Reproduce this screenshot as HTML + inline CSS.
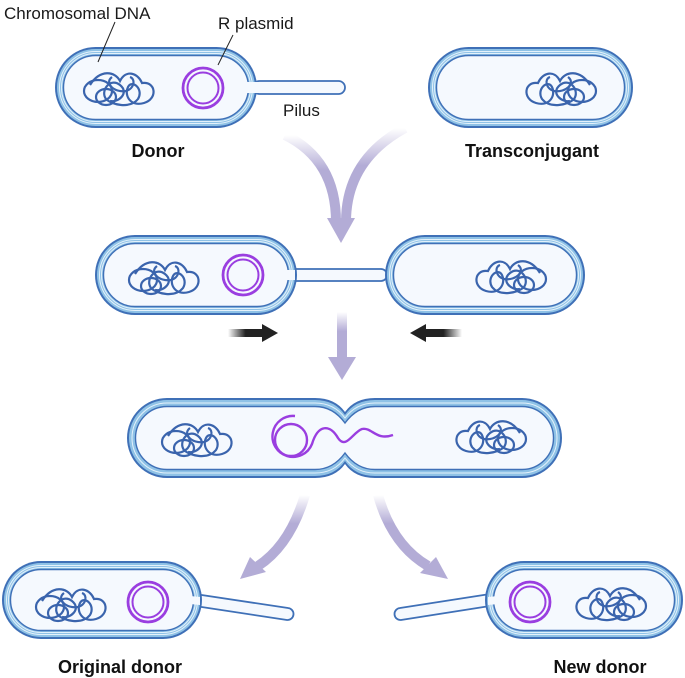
<!DOCTYPE html>
<html><head><meta charset="utf-8"><style>
html,body{margin:0;padding:0;background:#fff;}
svg{display:block;}
text{font-family:"Liberation Sans",Arial,sans-serif;}
</style></head><body>
<svg width="685" height="678" viewBox="0 0 685 678" xmlns="http://www.w3.org/2000/svg">
<defs>
<g id="dna" fill="none" stroke="#3a64ad" stroke-width="2.2">
  <ellipse cx="-22" cy="4" rx="14" ry="11"/>
  <ellipse cx="-14" cy="10" rx="10" ry="8"/>
  <path d="M-30 -2 C-20 -18 -5 -16 0 -6 C6 -18 18 -14 22 -4 C36 -6 38 12 24 16 C10 20 4 8 8 0 C12 -8 24 2 18 12 C10 22 -8 18 -14 12 C-20 4 -10 -10 0 -2 C10 6 -2 16 -10 14"/>
  <path d="M-8 -10 C-16 -4 -6 6 6 4 C14 2 16 -8 10 -10"/>
</g>
<g id="plas" fill="none" stroke="#9a3ee0">
  <circle r="20" stroke-width="2.8"/>
  <circle r="15.5" stroke-width="2"/>
</g>
<linearGradient id="gd" x1="0" y1="0" x2="0" y2="1"><stop offset="0" stop-color="#b3acd6" stop-opacity="0"/><stop offset="0.4" stop-color="#b3acd6"/></linearGradient>
<linearGradient id="gl" x1="0" x2="1"><stop offset="0" stop-color="#222" stop-opacity="0"/><stop offset="0.5" stop-color="#222"/></linearGradient>
<linearGradient id="gr" x1="1" x2="0"><stop offset="0" stop-color="#222" stop-opacity="0"/><stop offset="0.5" stop-color="#222"/></linearGradient>
</defs>

<!-- Row 1 -->
<g>
  <rect x="253" y="81" width="92" height="13" rx="6.5" fill="#f5f9fe" stroke="#3f70b7" stroke-width="1.8"/>
  <rect x="55" y="47" width="202" height="81" rx="40.5" fill="#3f70b7"/>
  <rect x="57" y="49" width="198" height="77" rx="38.5" fill="#8fc2e6"/>
  <rect x="59.5" y="51.5" width="193" height="72" rx="36" fill="none" stroke="#e3f1fb" stroke-width="1"/>
  <rect x="61.5" y="53.5" width="189" height="68" rx="34" fill="none" stroke="#e3f1fb" stroke-width="1"/>
  <rect x="63.5" y="55.5" width="185" height="64" rx="32" fill="#f5f9fe" stroke="#3f70b7" stroke-width="1.4"/>
  <rect x="247" y="82" width="12" height="11" fill="#f5f9fe"/>
  <use href="#dna" x="120" y="87"/>
  <use href="#plas" x="203" y="88"/>
</g>
<g>
  <rect x="428" y="47" width="205" height="81" rx="40.5" fill="#3f70b7"/>
  <rect x="430" y="49" width="201" height="77" rx="38.5" fill="#8fc2e6"/>
  <rect x="432.5" y="51.5" width="196" height="72" rx="36" fill="none" stroke="#e3f1fb" stroke-width="1"/>
  <rect x="434.5" y="53.5" width="192" height="68" rx="34" fill="none" stroke="#e3f1fb" stroke-width="1"/>
  <rect x="436.5" y="55.5" width="188" height="64" rx="32" fill="#f5f9fe" stroke="#3f70b7" stroke-width="1.4"/>
  <use href="#dna" x="560" y="87" transform="translate(1120 0) scale(-1 1)"/>
</g>
<line x1="115" y1="22" x2="98" y2="62" stroke="#222" stroke-width="1"/>
<line x1="233" y1="35" x2="218" y2="65" stroke="#222" stroke-width="1"/>
<text x="4" y="19" font-size="17" fill="#1a1a1a">Chromosomal DNA</text>
<text x="218" y="29" font-size="17" fill="#1a1a1a">R plasmid</text>
<text x="283" y="116" font-size="17" fill="#1a1a1a">Pilus</text>
<text x="158" y="157" font-size="18" font-weight="bold" text-anchor="middle" fill="#111">Donor</text>
<text x="532" y="157" font-size="18" font-weight="bold" text-anchor="middle" fill="#111">Transconjugant</text>

<!-- merging arrows -->
<path d="M285 135 Q336 160 336 222" fill="none" stroke="url(#gd)" stroke-width="10"/>
<path d="M405 128 Q346 160 346 222" fill="none" stroke="url(#gd)" stroke-width="10"/>
<polygon points="327,218 355,218 341,243" fill="#b3acd6"/>

<!-- Row 2 -->
<g>
  <rect x="290" y="269" width="97" height="12" rx="6" fill="#f5f9fe" stroke="#3f70b7" stroke-width="1.8"/>
  <rect x="95" y="235" width="202" height="80" rx="40" fill="#3f70b7"/>
  <rect x="97" y="237" width="198" height="76" rx="38" fill="#8fc2e6"/>
  <rect x="99.5" y="239.5" width="193" height="71" rx="35.5" fill="none" stroke="#e3f1fb" stroke-width="1"/>
  <rect x="101.5" y="241.5" width="189" height="67" rx="33.5" fill="none" stroke="#e3f1fb" stroke-width="1"/>
  <rect x="103.5" y="243.5" width="185" height="63" rx="31.5" fill="#f5f9fe" stroke="#3f70b7" stroke-width="1.4"/>
  <rect x="285" y="270" width="10" height="10" fill="#f5f9fe"/>
  <use href="#dna" x="165" y="276"/>
  <use href="#plas" x="243" y="275"/>
</g>
<g>
  <rect x="385" y="235" width="200" height="80" rx="40" fill="#3f70b7"/>
  <rect x="387" y="237" width="196" height="76" rx="38" fill="#8fc2e6"/>
  <rect x="389.5" y="239.5" width="191" height="71" rx="35.5" fill="none" stroke="#e3f1fb" stroke-width="1"/>
  <rect x="391.5" y="241.5" width="187" height="67" rx="33.5" fill="none" stroke="#e3f1fb" stroke-width="1"/>
  <rect x="393.5" y="243.5" width="183" height="63" rx="31.5" fill="#f5f9fe" stroke="#3f70b7" stroke-width="1.4"/>
  <use href="#dna" x="510" y="275" transform="translate(1020 0) scale(-1 1)"/>
</g>
<rect x="228" y="329" width="35" height="8" fill="url(#gl)"/>
<polygon points="262,324 278,333 262,342" fill="#222"/>
<rect x="425" y="329" width="37" height="8" fill="url(#gr)"/>
<polygon points="426,324 410,333 426,342" fill="#222"/>

<!-- down arrow -->
<rect x="337" y="312" width="10" height="48" fill="url(#gd)"/>
<polygon points="328,357 356,357 342,380" fill="#b3acd6"/>

<!-- Row 3 merged -->
<g>
  <path d="M167 398 H315 Q335 398 345 412 Q355 398 375 398 H522 A40 40 0 0 1 522 478 H375 Q355 478 345 464 Q335 478 315 478 H167 A40 40 0 0 1 167 398 Z" fill="#3f70b7"/>
  <path d="M167 400 H315 Q335 400 345 415 Q355 400 375 400 H522 A38 38 0 0 1 522 476 H375 Q355 476 345 461 Q335 476 315 476 H167 A38 38 0 0 1 167 400 Z" fill="#8fc2e6"/>
  <path d="M167 403 H315 Q334 403 345 418 Q356 403 375 403 H522 A35 35 0 0 1 522 473 H375 Q356 473 345 458 Q334 473 315 473 H167 A35 35 0 0 1 167 403 Z" fill="none" stroke="#e3f1fb" stroke-width="1"/>
  <path d="M167 406.5 H315 Q333 406.5 345 423 Q357 406.5 375 406.5 H522 A31.5 31.5 0 0 1 522 469.5 H375 Q357 469.5 345 453 Q333 469.5 315 469.5 H167 A31.5 31.5 0 0 1 167 406.5 Z" fill="#f5f9fe" stroke="#3f70b7" stroke-width="1.4"/>
  <use href="#dna" x="198" y="438"/>
  <use href="#dna" x="490" y="435" transform="translate(980 0) scale(-1 1)"/>
  <g fill="none" stroke="#9a3ee0" stroke-width="2.4">
    <circle cx="291" cy="440" r="16"/>
    <path d="M295 416 A20.5 20.5 0 1 0 312 444 C318 424 330 424 338 438 C346 450 353 432 362 429 C372 427 376 441 393 435"/>
  </g>
</g>

<!-- diverging arrows -->
<path d="M305 495 Q290 545 258 566" fill="none" stroke="url(#gd)" stroke-width="10"/>
<polygon points="240,579 250,557 266,572" fill="#b3acd6"/>
<path d="M378 495 Q392 545 428 566" fill="none" stroke="url(#gd)" stroke-width="10"/>
<polygon points="448,579 420,573 436,557" fill="#b3acd6"/>

<!-- Row 4 -->
<g>
  <path d="M195 594 L288 608 A6 6 0 0 1 287 620 L195 606 Z" fill="#f5f9fe" stroke="#3f70b7" stroke-width="1.8"/>
  <rect x="2" y="561" width="200" height="78" rx="39" fill="#3f70b7"/>
  <rect x="4" y="563" width="196" height="74" rx="37" fill="#8fc2e6"/>
  <rect x="6.5" y="565.5" width="191" height="69" rx="34.5" fill="none" stroke="#e3f1fb" stroke-width="1"/>
  <rect x="8.5" y="567.5" width="187" height="65" rx="32.5" fill="none" stroke="#e3f1fb" stroke-width="1"/>
  <rect x="10.5" y="569.5" width="183" height="61" rx="30.5" fill="#f5f9fe" stroke="#3f70b7" stroke-width="1.4"/>
  <path d="M190 596 L200 597 L200 605 L190 604 Z" fill="#f5f9fe"/>
  <use href="#dna" x="72" y="603"/>
  <use href="#plas" x="148" y="602"/>
</g>
<g>
  <path d="M490 594 L400 608 A6 6 0 0 0 401 620 L490 606 Z" fill="#f5f9fe" stroke="#3f70b7" stroke-width="1.8"/>
  <rect x="485" y="561" width="198" height="78" rx="39" fill="#3f70b7"/>
  <rect x="487" y="563" width="194" height="74" rx="37" fill="#8fc2e6"/>
  <rect x="489.5" y="565.5" width="189" height="69" rx="34.5" fill="none" stroke="#e3f1fb" stroke-width="1"/>
  <rect x="491.5" y="567.5" width="185" height="65" rx="32.5" fill="none" stroke="#e3f1fb" stroke-width="1"/>
  <rect x="493.5" y="569.5" width="181" height="61" rx="30.5" fill="#f5f9fe" stroke="#3f70b7" stroke-width="1.4"/>
  <path d="M498 596 L488 597 L488 605 L498 604 Z" fill="#f5f9fe"/>
  <use href="#plas" x="530" y="602"/>
  <use href="#dna" x="610" y="602" transform="translate(1220 0) scale(-1 1)"/>
</g>
<text x="120" y="673" font-size="18" font-weight="bold" text-anchor="middle" fill="#111">Original donor</text>
<text x="600" y="673" font-size="18" font-weight="bold" text-anchor="middle" fill="#111">New donor</text>
</svg>
</body></html>
